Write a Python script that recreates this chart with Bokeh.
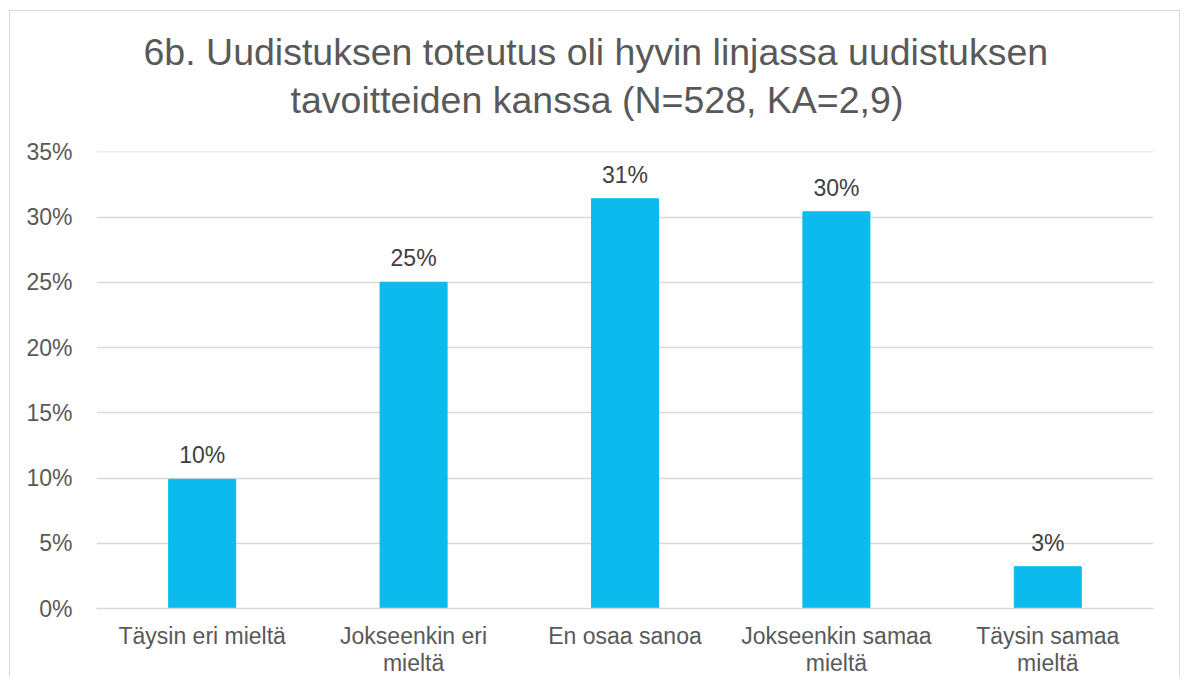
from bokeh.plotting import figure
from bokeh.models import ColumnDataSource, LabelSet, Title, FixedTicker, NumeralTickFormatter, Range1d
from bokeh.core.properties import value
from bokeh.embed import file_html
from bokeh.resources import INLINE

categories = ["Täysin eri mieltä", "Jokseenkin eri\nmieltä", "En osaa sanoa",
              "Jokseenkin samaa\nmieltä", "Täysin samaa\nmieltä"]
values = [0.099, 0.250, 0.314, 0.304, 0.032]
value_labels = ["10%", "25%", "31%", "30%", "3%"]
y_ticks = [0.0, 0.05, 0.10, 0.15, 0.20, 0.25, 0.30, 0.35]
title_lines = ["6b. Uudistuksen toteutus oli hyvin linjassa uudistuksen",
               "tavoitteiden kanssa (N=528, KA=2,9)"]

FONT = "Liberation Sans"
GREY = "#595959"
DARK = "#404040"
GRID = "#d9d9d9"
BAR = "#0CBBEE"

src = ColumnDataSource(dict(cat=categories, val=values, lab=value_labels))

p = figure(x_range=categories, y_range=Range1d(0, 0.3502), width=1171, height=667,
           output_backend="svg", toolbar_location=None,
           min_border_left=86, min_border_right=28, min_border_bottom=40, min_border_top=140)
p.margin = (10, 0, 0, 9)
p.styles = {"border-left": f"1px solid {GRID}", "border-top": f"1px solid {GRID}",
            "border-right": f"1px solid {GRID}"}

p.vbar(x="cat", top="val", width=0.317, color=BAR, source=src)

labels = LabelSet(x="cat", y="val", text="lab", source=src, text_align="center",
                  text_baseline="alphabetic", y_offset=16, text_font=value(FONT),
                  text_font_size="23px", text_color=DARK)
p.add_layout(labels)

spacer = Title(text=" ", text_font_size="10px", standoff=14)
t2 = Title(text=title_lines[1], align="left", offset=194, text_font=FONT,
           text_font_size="37.5px", text_font_style="normal", text_color=GREY, standoff=8)
t1 = Title(text=title_lines[0], align="left", offset=47, text_font=FONT,
           text_font_size="37.5px", text_font_style="normal", text_color=GREY, standoff=0)
p.add_layout(spacer, "above")
p.add_layout(t2, "above")
p.add_layout(t1, "above")

p.outline_line_color = None
p.xgrid.grid_line_color = None
p.ygrid.grid_line_color = GRID
p.ygrid.grid_line_width = 1.5

p.yaxis.ticker = FixedTicker(ticks=y_ticks)
p.yaxis.formatter = NumeralTickFormatter(format="0%")
p.yaxis.axis_line_color = None
p.yaxis.major_tick_line_color = None
p.yaxis.minor_tick_line_color = None
p.yaxis.major_label_standoff = 18
p.yaxis.major_label_text_font = FONT
p.yaxis.major_label_text_font_size = "23px"
p.yaxis.major_label_text_color = GREY

p.xaxis.axis_line_color = GRID
p.xaxis.axis_line_width = 1.5
p.xaxis.major_tick_line_color = None
p.xaxis.minor_tick_line_color = None
p.xaxis.major_label_standoff = 8
p.xaxis.major_label_text_font = FONT
p.xaxis.major_label_text_font_size = "23px"
p.xaxis.major_label_text_line_height = 1.05
p.xaxis.major_label_text_color = GREY

open("out.html", "w").write(file_html(p, INLINE))
